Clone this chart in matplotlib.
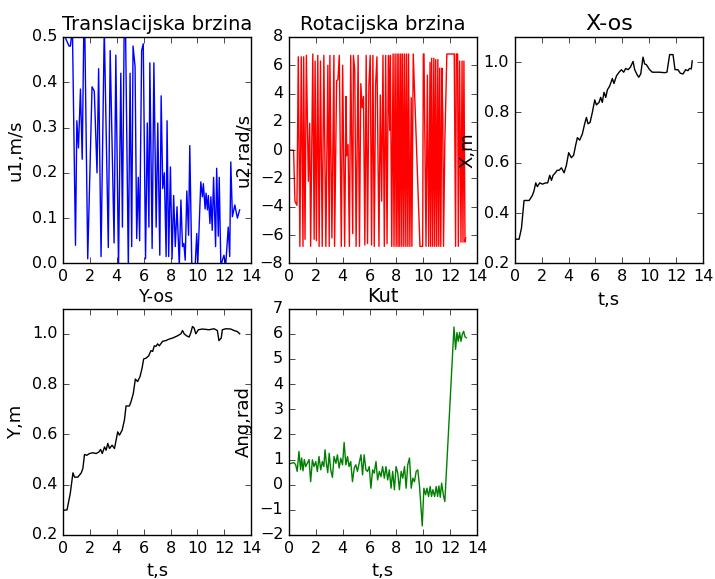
import numpy as np
import matplotlib
matplotlib.use("Agg")
import matplotlib.pyplot as plt

# translational speed u1 (m/s)
t_u1 = [0.0, 0.15, 0.45, 0.55, 0.7, 0.93, 1.03, 1.15, 1.3, 1.43, 1.55, 1.62, 1.84,
        2.16, 2.33, 2.53, 2.65, 2.83, 3.07, 3.37, 3.51, 3.8, 3.93, 4.13, 4.3, 4.42,
        4.55, 4.65, 4.86, 4.99, 5.11, 5.21, 5.36, 5.48, 5.6, 5.7, 5.85, 5.97, 6.14,
        6.27, 6.39, 6.46, 6.63, 6.76, 6.93, 7.05, 7.2, 7.3, 7.42, 7.54, 7.67, 7.74,
        7.86, 7.99, 8.11, 8.23, 8.35, 8.48, 8.65, 8.77, 8.89, 8.99, 9.09, 9.21, 9.34,
        9.43, 9.58, 9.83, 9.95, 10.02, 10.25, 10.37, 10.44, 10.57, 10.64, 10.74,
        10.81, 10.93, 11.0, 11.1, 11.2, 11.35, 11.43, 11.55, 11.62, 11.74, 11.97,
        12.1, 12.29, 12.4, 12.48, 12.6, 12.78, 12.97, 13.14]
u1 = [0.55, 0.5, 0.48, 0.48, 0.52, 0.04, 0.315, 0.255, 0.385, 0.23, 0.52, 0.52, 0.01,
      0.39, 0.38, 0.2, 0.43, 0.015, 0.52, 0.035, 0.47, 0.045, 0.46, -0.01, 0.42, 0.08,
      0.52, 0.52, -0.01, 0.42, 0.037, 0.48, 0.435, 0.055, 0.19, 0.05, 0.47, 0.485, 0.01,
      0.31, 0.08, 0.443, 0.033, 0.443, 0.08, 0.31, 0.018, 0.37, 0.165, 0.2, 0.015, 0.315,
      0.015, 0.213, 0.01, 0.15, 0.037, 0.125, -0.005, 0.14, 0.037, 0.044, 0.007, 0.16, 0.062,
      0.26, -0.005, -0.005, 0.066, -0.005, 0.18, 0.147, 0.176, 0.12, 0.155, 0.118,
      0.15, 0.088, 0.147, 0.073, 0.19, 0.037, 0.21, 0.06, 0.19, -0.005, 0.018,
      -0.005, 0.08, 0.015, 0.224, 0.103, 0.129, 0.1, 0.118]

# rotational speed u2 (rad/s)
t_u2 = [0.0, 0.35, 0.45, 0.6, 0.7, 0.82, 0.92, 1.05, 1.1, 1.2, 1.3, 1.45, 1.55, 1.62,
        1.78, 1.88, 1.95, 2.05, 2.15, 2.25, 2.35, 2.48, 2.6, 2.75, 2.9, 3.0, 3.05,
        3.2, 3.35, 3.4, 3.55, 3.65, 3.75, 3.9, 4.0, 4.15, 4.25, 4.3, 4.4, 4.5, 4.6,
        4.75, 4.8, 4.9, 5.0, 5.15, 5.25, 5.35, 5.45, 5.55, 5.65, 5.75, 5.85, 5.95,
        6.05, 6.15, 6.25, 6.35, 6.45, 6.55, 6.7, 6.8, 6.9, 7.0, 7.1, 7.2, 7.3, 7.4,
        7.5, 7.55, 7.65, 7.75, 7.82, 7.9, 7.98, 8.05, 8.12, 8.18, 8.25, 8.32, 8.4,
        8.45, 8.55, 8.6, 8.7, 8.75, 8.85, 8.9, 9.0, 9.1, 9.15, 9.25, 9.75, 9.95,
        10.0, 10.05, 10.2, 10.3, 10.4, 10.5, 10.55, 10.62, 10.7, 10.78, 10.85, 10.92,
        11.0, 11.08, 11.15, 11.22, 11.3, 11.38, 11.45, 11.5, 11.6, 11.75, 12.3, 12.4,
        12.45, 12.55, 12.6, 12.7, 12.8, 12.88, 12.95, 13.02, 13.1, 13.15]
u2 = [0.0, 0.0, -3.6, -3.9, 6.6, -6.8, 6.6, -6.8, 6.6, -6.3, 6.7, -2.2, 1.9, -6.8,
      6.8, -6.3, 6.3, -6.4, 6.7, -6.8, 6.3, -6.8, 6.7, -6.8, 6.0, -6.8, 6.7,
      -6.2, 6.7, -6.8, 4.9, 5.0, 6.7, -6.8, 6.0, -6.8, 3.8, -0.4, 0.4, -6.8, 6.7,
      -5.9, 6.7, 5.7, -6.8, 6.7, -6.8, 4.7, 3.0, 3.8, -6.7, 6.7, -6.6, 4.6,
      6.7, -6.7, 6.7, -6.8, 4.6, 6.6, -6.8, 3.9, -3.6, 6.7, -6.8, 6.7, -6.6, 6.7,
      1.4, 6.7, -6.8, 6.8, -6.8, 6.8, -6.8, 6.8, -6.8, 6.8, -6.8, 6.8, -6.8,
      6.8, -6.8, 6.8, -6.8, 6.8, -6.8, 6.8, -6.8, 3.7, -6.8, 6.8, -6.8, -6.8,
      6.8, 6.8, -6.8, 5.3, -6.8, 6.2, -6.8, 6.5, -6.8, 6.5, -6.8, 6.4,
      -6.8, 6.4, -6.8, 5.8, -6.8, 5.8, 2.3, -6.8, 0.6, 6.8, 6.8, -6.8,
      6.8, 6.8, -6.8, 6.3, -6.5, 6.3, -6.5, 6.3, -6.5, -6.2]

# X position (m)
t_x = [0.0, 0.32, 0.5, 0.69, 0.87, 1.07, 1.31, 1.44, 1.56, 1.68, 1.86, 2.06, 2.3, 2.45,
       2.6, 2.73, 2.85, 3.02, 3.15, 3.3, 3.47, 3.67, 3.84, 4.01, 4.21, 4.38, 4.53, 4.66,
       4.83, 5.03, 5.2, 5.33, 5.45, 5.6, 5.77, 5.95, 6.07, 6.27, 6.39, 6.51, 6.64, 6.77,
       6.89, 7.06, 7.26, 7.38, 7.56, 7.76, 7.93, 8.1, 8.25, 8.43, 8.6, 8.8, 8.92, 9.1,
       9.22, 9.37, 9.54, 9.66, 9.79, 10.03, 10.23, 10.53, 10.78, 11.15, 11.32, 11.52,
       11.77, 11.92, 12.14, 12.31, 12.51, 12.71, 12.88, 13.0, 13.13, 13.2]
x_pos = [0.296, 0.296, 0.34, 0.45, 0.45, 0.45, 0.47, 0.49, 0.52, 0.505, 0.52, 0.515, 0.52,
         0.52, 0.55, 0.53, 0.55, 0.56, 0.57, 0.57, 0.58, 0.56, 0.59, 0.64, 0.62, 0.63,
         0.67, 0.70, 0.69, 0.715, 0.755, 0.78, 0.755, 0.76, 0.80, 0.85, 0.83, 0.84, 0.86,
         0.84, 0.88, 0.86, 0.89, 0.905, 0.935, 0.915, 0.945, 0.96, 0.97, 0.96, 0.975,
         0.97, 0.98, 1.003, 0.97, 0.95, 0.94, 0.953, 1.02, 0.993, 0.99, 0.97, 0.96, 0.96,
         0.96, 0.958, 0.96, 1.03, 1.03, 0.97, 0.97, 0.956, 0.953, 0.97, 0.966, 0.975,
         0.973, 1.005]

# Y position (m)
t_y = [0.0, 0.3, 0.54, 0.74, 0.86, 1.1, 1.36, 1.48, 1.6, 1.77, 1.98, 2.22, 2.47, 2.67,
       2.8, 2.92, 3.09, 3.21, 3.33, 3.46, 3.65, 3.83, 3.95, 4.07, 4.2, 4.4, 4.57, 4.69,
       4.94, 5.06, 5.23, 5.38, 5.55, 5.73, 5.88, 6.0, 6.17, 6.37, 6.54, 6.67, 6.79,
       6.91, 7.04, 7.16, 7.41, 7.65, 7.9, 8.15, 8.52, 8.77, 8.89, 9.01, 9.19, 9.38,
       9.5, 9.63, 9.75, 9.88, 10.07, 10.37, 10.86, 11.23, 11.48, 11.6, 11.77, 11.85,
       12.1, 12.47, 12.72, 12.96, 13.14]
y_pos = [0.298, 0.3, 0.365, 0.447, 0.43, 0.43, 0.447, 0.465, 0.52, 0.517, 0.524, 0.527,
         0.524, 0.53, 0.54, 0.524, 0.55, 0.537, 0.564, 0.544, 0.557, 0.544, 0.577, 0.61,
         0.597, 0.617, 0.657, 0.713, 0.713, 0.73, 0.763, 0.82, 0.81, 0.83, 0.863, 0.9,
         0.903, 0.912, 0.933, 0.93, 0.952, 0.95, 0.96, 0.952, 0.97, 0.973, 0.979, 0.983,
         0.992, 1.0, 1.013, 1.0, 0.992, 0.987, 1.003, 1.029, 1.023, 1.0, 1.016, 1.019,
         1.016, 1.02, 1.013, 0.973, 0.983, 1.016, 1.02, 1.019, 1.013, 1.009, 1.0]

# heading angle (rad)
t_ang = [0.0, 0.37, 0.5, 0.62, 0.75, 0.87, 0.95, 1.05, 1.15, 1.25, 1.37, 1.5, 1.62,
         1.75, 1.87, 2.0, 2.12, 2.24, 2.37, 2.49, 2.6, 2.69, 2.79, 2.89, 3.0, 3.11,
         3.24, 3.36, 3.5, 3.61, 3.74, 3.86, 3.99, 4.11, 4.24, 4.36, 4.48, 4.6, 4.73,
         4.86, 4.98, 5.1, 5.23, 5.36, 5.48, 5.6, 5.73, 5.85, 5.98, 6.1, 6.23, 6.35,
         6.48, 6.6, 6.73, 6.85, 6.97, 7.1, 7.22, 7.35, 7.47, 7.6, 7.72, 7.85, 7.97,
         8.1, 8.22, 8.35, 8.47, 8.6, 8.72, 8.84, 8.97, 9.1, 9.22, 9.34, 9.47, 9.59,
         9.72, 9.92, 10.04, 10.17, 10.27, 10.39, 10.51, 10.61, 10.71, 10.84, 10.96,
         11.06, 11.16, 11.26, 11.36, 11.51, 11.6, 12.28, 12.4, 12.5, 12.6, 12.7, 12.8,
         12.9, 13.0, 13.1, 13.2]
ang = [0.82, 0.88, 0.8, 0.53, 1.32, 0.6, 1.06, 0.55, 1.0, 0.72, 0.85, 1.0, 0.12,
       0.99, 0.72, 0.92, 0.52, 1.12, 0.59, 0.92, 0.72, 1.39, 0.85, 0.48, 1.25, 0.6,
       0.29, 1.12, 0.85, 1.19, 0.66, 1.05, 0.79, 1.68, 0.79, 1.12, 0.72, 0.92, 0.12,
       0.66, 0.79, 0.53, 0.86, 1.19, 0.39, 1.19, 0.59, 0.53, 0.72, -0.14, 0.59, 0.46,
       0.92, 0.19, 0.53, 0.32, 0.72, 0.26, 0.72, 0.19, 0.59, -0.14, 0.53, -0.2, 0.72,
       0.46, -0.2, 0.53, 0.26, 0.72, -0.14, 0.79, 1.06, -0.14, 0.26, 0.12, 0.53, 0.59,
       -0.07, -1.64, -0.14, -0.4, -0.14, -0.47, -0.07, -0.47, -0.2, -0.47, -0.07,
       -0.47, -0.05, -0.5, 0.06, -0.47, -0.67, 6.27, 5.38, 6.05, 5.7, 6.05, 5.7,
       5.98, 6.1, 5.88, 5.84]

plt.style.use("classic")
plt.rcParams["font.family"] = "DejaVu Sans"
plt.rcParams["xtick.labelsize"] = 11.5
plt.rcParams["ytick.labelsize"] = 11.5
plt.rcParams["axes.labelsize"] = 13

fig, axes = plt.subplots(2, 3, figsize=(7.15, 5.79), dpi=100)
fig.patch.set_facecolor("white")
plt.subplots_adjust(left=0.0881, right=0.9832, bottom=0.076, top=0.9361,
                    wspace=0.2, hspace=0.2)

ax = axes[0, 0]
ax.plot(t_u1, u1, color="b", lw=1.0)
ax.set_xlim(0, 14)
ax.set_ylim(0, 0.5)
ax.set_yticks(np.arange(0, 0.51, 0.1))
ax.set_ylabel("u1,m/s")
ax.set_title("Translacijska brzina", fontsize=14)

ax = axes[0, 1]
ax.plot(t_u2, u2, color="r", lw=1.0)
ax.set_xlim(0, 14)
ax.set_ylim(-8, 8)
ax.set_yticks(np.arange(-8, 9, 2))
ax.set_ylabel("u2,rad/s")
ax.set_title("Rotacijska brzina", fontsize=14)

ax = axes[0, 2]
ax.plot(t_x, x_pos, color="k", lw=1.0)
ax.set_xlim(0, 14)
ax.set_ylim(0.2, 1.1)
ax.set_yticks([0.2, 0.4, 0.6, 0.8, 1.0])
ax.set_ylabel("X,m")
ax.set_xlabel("t,s")
ax.set_title("X-os", fontsize=16)

ax = axes[1, 0]
ax.plot(t_y, y_pos, color="k", lw=1.0)
ax.set_xlim(0, 14)
ax.set_ylim(0.2, 1.1)
ax.set_yticks([0.2, 0.4, 0.6, 0.8, 1.0])
ax.set_ylabel("Y,m")
ax.set_xlabel("t,s")
ax.set_title("Y-os", fontsize=12.5)

ax = axes[1, 1]
ax.plot(t_ang, ang, color="g", lw=1.0)
ax.set_xlim(0, 14)
ax.set_ylim(-2, 7)
ax.set_yticks(np.arange(-2, 8, 1))
ax.set_ylabel("Ang,rad")
ax.set_xlabel("t,s")
ax.set_title("Kut", fontsize=14)

axes[1, 2].remove()

for a in fig.axes:
    a.set_xticks(np.arange(0, 15, 2))

plt.savefig("out.png", dpi=100, facecolor="white")
